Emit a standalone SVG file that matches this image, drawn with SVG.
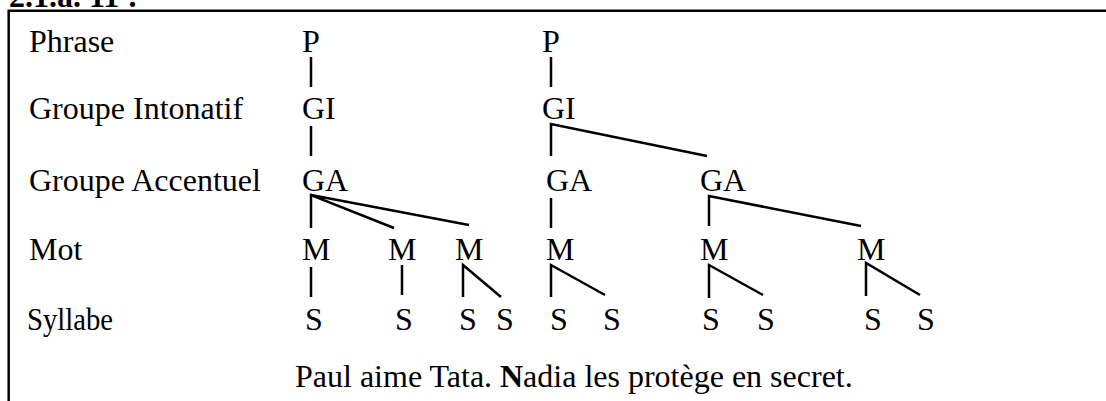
<svg xmlns="http://www.w3.org/2000/svg" width="1106" height="401" viewBox="0 0 1106 401">
<style>
text{font-family:"Liberation Serif","Times New Roman",serif;font-size:32px;fill:#000}
.e{stroke:#000;stroke-width:2.5;fill:none;stroke-linecap:butt}
</style>
<rect width="1106" height="401" fill="#fff"/>
<text id="header" x="9" y="7" font-weight="bold">2.1.a. 11 :</text>
<g id="frame"><path class="e" d="M8.7 401V10.7H1106"/></g>
<g id="labels">
<text x="29" y="52">Phrase</text>
<text x="29" y="119">Groupe Intonatif</text>
<text x="29" y="191">Groupe Accentuel</text>
<text x="29" y="260">Mot</text>
<text x="27" y="330" textLength="86" lengthAdjust="spacingAndGlyphs">Syllabe</text>
</g>
<g id="tree1">
<text x="302" y="52">P</text>
<text x="302" y="119">GI</text>
<text x="302" y="191">GA</text>
<text x="302" y="260">M</text>
<text x="388" y="260">M</text>
<text x="455" y="260">M</text>
<text x="305" y="330">S</text>
<text x="395" y="330">S</text>
<text x="459" y="330">S</text>
<text x="496" y="330">S</text>
</g>
<g id="tree2">
<text x="542" y="52">P</text>
<text x="542" y="119">GI</text>
<text x="546" y="191">GA</text>
<text x="700" y="191">GA</text>
<text x="546" y="260">M</text>
<text x="700" y="260">M</text>
<text x="857" y="260">M</text>
<text x="550" y="330">S</text>
<text x="603" y="330">S</text>
<text x="702" y="330">S</text>
<text x="757" y="330">S</text>
<text x="864" y="330">S</text>
<text x="917" y="330">S</text>
</g>
<g id="connectors">
<path class="e" d="M311 57V87M311 126V156"/>
<path class="e" d="M311 228V195L394 228M311 195L469 225"/>
<path class="e" d="M311 267V297M402 265V295M463 297V265L501 297"/>
<path class="e" d="M551 57V87M551 156V124L707 156"/>
<path class="e" d="M551 198V228M709 226V196L861 226"/>
<path class="e" d="M551 297V265L605 295M709 298V265L763 295M866 296V263L920 295"/>
</g>
<text id="sentence" x="295" y="387">Paul aime Tata. <tspan x="500" font-weight="bold">N</tspan>adia les protège en secret.</text>
</svg>
